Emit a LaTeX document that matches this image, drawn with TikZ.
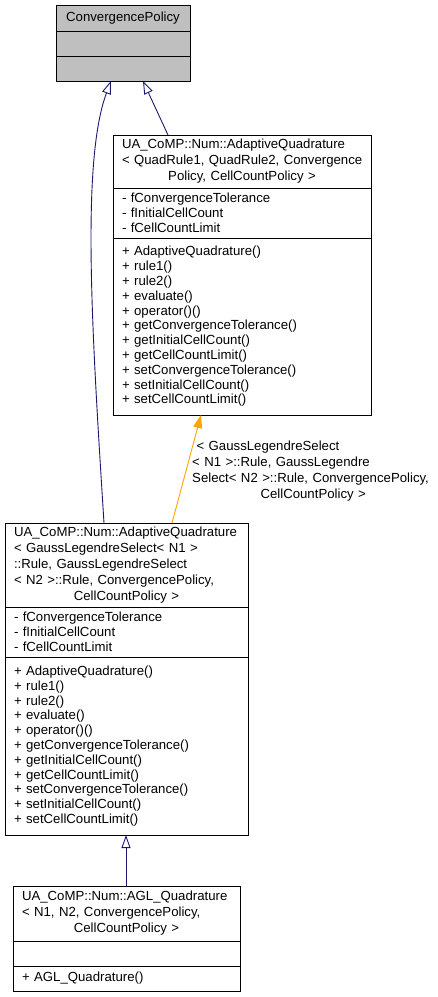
\documentclass[tikz,border=0pt]{standalone}
\usepackage{fontspec}
\setmainfont{Liberation Sans}
\usetikzlibrary{calc, positioning, arrows.meta}

\definecolor{edgeblue}{HTML}{191970}
\definecolor{edgeorange}{HTML}{FFA500}
\definecolor{classgray}{HTML}{BFBFBF}

\newcommand{\midline}[1]{\hspace*{\fill}#1\hspace*{\fill}\null}
\newcommand{\quadattrs}{- fConvergenceTolerance\\- fInitialCellCount\\- fCellCountLimit}
\newcommand{\quadops}{+ AdaptiveQuadrature()\\+ rule1()\\+ rule2()\\+ evaluate()\\+ operator()()\\+ getConvergenceTolerance()\\+ getInitialCellCount()\\+ getCellCountLimit()\\+ setConvergenceTolerance()\\+ setInitialCellCount()\\+ setCellCountLimit()}

\tikzset{
  part/.style={draw, fill=white, line width=0.9pt, outer sep=0pt, inner xsep=9pt, inner ysep=2pt, align=left},
  member/.style={part, font=\fontsize{13.2}{14.8}\selectfont},
  inherit/.style={draw=edgeblue, line width=0.9pt, -{Triangle[open, length=13pt, width=9pt]}},
  bind/.style={draw=edgeorange, line width=0.9pt, -{Triangle[length=13pt, width=9pt]}}
}

\begin{document}
\begin{tikzpicture}[x=1pt, y=-1pt, font=\fontsize{13.2}{16}\selectfont]
    \useasboundingbox (0,0) rectangle (437,997);

    % ConvergencePolicy
    \node[part, fill=classgray, align=center, text width=116pt, minimum height=26pt, anchor=north west] (atitle) at (56,5) {ConvergencePolicy};
    \node[member, fill=classgray, text width=116pt, minimum height=25pt, below=0pt of atitle] (aattr) {};
    \node[member, fill=classgray, text width=116pt, minimum height=25pt, below=0pt of aattr] (aops) {};

    % AdaptiveQuadrature< QuadRule1, QuadRule2, ... >
    \node[part, text width=240pt, minimum height=53pt, anchor=north west] (btitle) at (113,135) {UA\_CoMP::Num::AdaptiveQuadrature\\\mbox{< QuadRule1, QuadRule2, Convergence}\\\midline{Policy, CellCountPolicy >}};
    \node[member, text width=240pt, minimum height=50pt, below=0pt of btitle] (battr) {\quadattrs};
    \node[member, text width=240pt, minimum height=177pt, below=0pt of battr] (bops) {\quadops};

    % AdaptiveQuadrature< GaussLegendreSelect... >
    \node[part, text width=225pt, minimum height=84pt, anchor=north west] (ctitle) at (5,523) {UA\_CoMP::Num::AdaptiveQuadrature\\< GaussLegendreSelect< N1 >\\::Rule, GaussLegendreSelect\\< N2 >::Rule, ConvergencePolicy,\\\midline{CellCountPolicy >}};
    \node[member, text width=225pt, minimum height=50pt, below=0pt of ctitle] (cattr) {\quadattrs};
    \node[member, text width=225pt, minimum height=178pt, below=0pt of cattr] (cops) {\quadops};

    % AGL_Quadrature
    \node[part, text width=209pt, minimum height=55pt, anchor=north west] (dtitle) at (13,886) {UA\_CoMP::Num::AGL\_Quadrature\\< N1, N2, ConvergencePolicy,\\\midline{CellCountPolicy >}};
    \node[member, text width=209pt, minimum height=25pt, below=0pt of dtitle] (dattr) {};
    \node[member, text width=209pt, minimum height=25pt, below=0pt of dattr] (dops) {+ AGL\_Quadrature()};

    % template binding label
    \node[text width=242pt, align=left, inner sep=0pt, anchor=north west] (bindlabel) at (192,441) {\ < GaussLegendreSelect\\< N1 >::Rule, GaussLegendre\\Select< N2 >::Rule, ConvergencePolicy,\\\midline{CellCountPolicy >}};

    \draw[inherit] ($(ctitle.north west)+(99,0)$) .. controls +(-12,-190) and +(-30,80) .. ($(aops.south west)+(55,0)$);
    \draw[inherit] ($(btitle.north west)+(55,0)$) -- ($(aops.south west)+(87,0)$);
    \draw[bind] ($(ctitle.north west)+(167,0)$) -- ($(bops.south west)+(88,0)$);
    \draw[inherit] ($(dtitle.north west)+(113,0)$) -- ($(cops.south west)+(121,0)$);
\end{tikzpicture}
\end{document}
